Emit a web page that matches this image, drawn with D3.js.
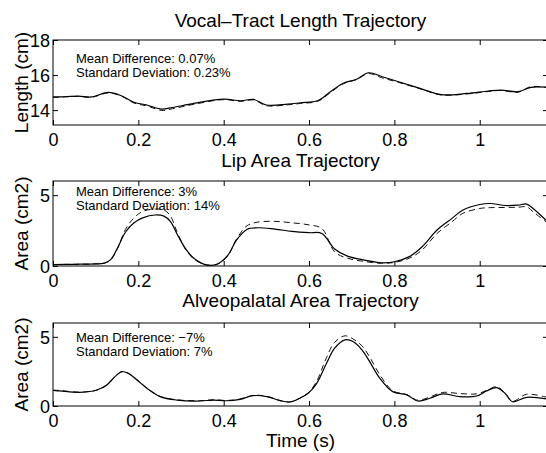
<!DOCTYPE html>
<html>
<head>
<meta charset="utf-8">
<script src="https://cdn.jsdelivr.net/npm/d3@7"></script>
<style>
  body { margin: 0; background: #fff; }
  svg { display: block; font-family: "Liberation Sans", Arial, Helvetica, sans-serif; }
  .tick line { stroke: #000; }
  .lbl { fill: #000; }
</style>
</head>
<body>
<div id="chart"></div>
<script>
'use strict';

// Vocal-tract length (cm): measured (solid) vs estimated (dashed)
var lenTime = [0, 0.02, 0.06, 0.09, 0.13, 0.16, 0.19, 0.22, 0.255, 0.28, 0.33, 0.40, 0.44, 0.47, 0.50, 0.55, 0.58, 0.62, 0.65, 0.68, 0.71, 0.74, 0.77, 0.81, 0.86, 0.91, 0.97, 1.02, 1.05, 1.09, 1.12, 1.16];
var lenSolid = [14.75, 14.76, 14.8, 14.75, 15.01, 14.82, 14.45, 14.29, 14.06, 14.15, 14.38, 14.63, 14.53, 14.61, 14.29, 14.34, 14.42, 14.53, 15.05, 15.53, 15.75, 16.13, 15.92, 15.62, 15.24, 14.88, 14.95, 15.09, 15.14, 15.05, 15.3, 15.3];
var lenDashed = [14.72, 14.74, 14.78, 14.73, 14.98, 14.8, 14.4, 14.24, 13.98, 14.08, 14.33, 14.6, 14.5, 14.58, 14.25, 14.3, 14.38, 14.5, 15.0, 15.5, 15.73, 16.08, 15.85, 15.58, 15.22, 14.86, 14.92, 15.06, 15.12, 15.02, 15.34, 15.28];

// Lip area (cm2)
var lipTime = [0, 0.05, 0.10, 0.12, 0.135, 0.15, 0.17, 0.19, 0.21, 0.24, 0.26, 0.275, 0.29, 0.31, 0.33, 0.36, 0.385, 0.41, 0.43, 0.455, 0.48, 0.52, 0.56, 0.60, 0.63, 0.66, 0.69, 0.73, 0.77, 0.80, 0.835, 0.865, 0.90, 0.935, 0.96, 1.0, 1.025, 1.06, 1.09, 1.11, 1.125, 1.16];
var lipSolid = [0.1, 0.12, 0.15, 0.2, 0.45, 1.2, 2.4, 3.05, 3.4, 3.6, 3.52, 3.15, 2.3, 1.25, 0.55, 0.08, 0.14, 0.77, 1.83, 2.6, 2.7, 2.6, 2.45, 2.35, 2.3, 1.2, 0.7, 0.42, 0.23, 0.3, 0.66, 1.36, 2.54, 3.36, 3.94, 4.34, 4.41, 4.27, 4.3, 4.37, 4.06, 3.1];
var lipDashed = [0.1, 0.12, 0.15, 0.2, 0.42, 1.15, 2.6, 3.4, 3.85, 4.02, 3.95, 3.55, 2.45, 1.2, 0.5, 0.06, 0.12, 0.72, 1.9, 2.85, 3.1, 3.15, 3.05, 2.9, 2.65, 1.0, 0.55, 0.32, 0.19, 0.25, 0.55, 1.13, 2.3, 3.12, 3.71, 4.06, 4.12, 4.13, 4.15, 4.18, 3.83, 3.0];

// Alveopalatal area (cm2)
var alvTime = [0, 0.016, 0.063, 0.103, 0.126, 0.145, 0.161, 0.176, 0.197, 0.22, 0.251, 0.29, 0.344, 0.375, 0.407, 0.438, 0.469, 0.501, 0.532, 0.555, 0.578, 0.598, 0.618, 0.641, 0.66, 0.684, 0.703, 0.724, 0.742, 0.766, 0.796, 0.829, 0.855, 0.883, 0.913, 0.953, 0.993, 1.016, 1.04, 1.059, 1.077, 1.11, 1.16];
var alvSolid = [1.12, 1.09, 0.99, 1.16, 1.52, 2.12, 2.49, 2.37, 1.88, 1.28, 0.68, 0.43, 0.36, 0.43, 0.38, 0.48, 0.75, 0.68, 0.39, 0.29, 0.56, 0.92, 1.64, 3.09, 4.18, 4.78, 4.66, 4.06, 3.21, 2.0, 1.04, 0.8, 0.36, 0.56, 0.87, 0.68, 0.72, 1.09, 1.33, 0.92, 0.31, 0.63, 0.49];
var alvDashed = [1.15, 1.12, 1.0, 1.15, 1.5, 2.1, 2.47, 2.38, 1.9, 1.3, 0.7, 0.45, 0.38, 0.45, 0.4, 0.5, 0.77, 0.7, 0.4, 0.3, 0.55, 0.95, 1.8, 3.5, 4.6, 5.07, 4.85, 4.35, 3.55, 2.25, 1.1, 0.82, 0.42, 0.65, 0.98, 0.9, 0.88, 1.12, 1.4, 0.95, 0.35, 0.85, 0.6];

var xTicks = [0, 0.2, 0.4, 0.6, 0.8, 1];

var panels = [
  { title: 'Vocal\u2013Tract Length Trajectory', ylabel: 'Length (cm)', time: lenTime, solid: lenSolid, dashed: lenDashed,
    ydomain: [13.15, 18], yticks: [14, 16, 18], top: 40, bottom: 125, titleY: 27,
    notes: ['Mean Difference: 0.07%', 'Standard Deviation: 0.23%'], noteY: 63 },
  { title: 'Lip Area Trajectory', ylabel: 'Area (cm2)', time: lipTime, solid: lipSolid, dashed: lipDashed,
    ydomain: [0, 6], yticks: [0, 5], top: 181, bottom: 266, titleY: 167,
    notes: ['Mean Difference: 3%', 'Standard Deviation: 14%'], noteY: 196 },
  { title: 'Alveopalatal Area Trajectory', ylabel: 'Area (cm2)', time: alvTime, solid: alvSolid, dashed: alvDashed,
    ydomain: [0, 6], yticks: [0, 5], top: 323, bottom: 406, titleY: 307,
    notes: ['Mean Difference: \u22127%', 'Standard Deviation: 7%'], noteY: 342 }
];

var width = 546, height = 453,
    left = 53, right = 548;

var svg = d3.select('#chart').append('svg')
  .attr('width', width)
  .attr('height', height);

var x = d3.scaleLinear().domain([0, 1.16]).range([left, right]);

panels.forEach(function (p, i) {
  var y = d3.scaleLinear().domain(p.ydomain).range([p.bottom, p.top]);
  var g = svg.append('g');

  var clipId = 'clip' + i;
  svg.append('clipPath').attr('id', clipId).append('rect')
    .attr('x', left).attr('y', p.top).attr('width', right - left).attr('height', p.bottom - p.top);

  // frame
  g.append('rect')
    .attr('x', left).attr('y', p.top)
    .attr('width', right - left).attr('height', p.bottom - p.top)
    .attr('fill', 'none').attr('stroke', '#000').attr('stroke-width', 1);

  // axes: inward ticks on all sides
  g.append('g').attr('transform', 'translate(0,' + p.bottom + ')')
    .call(d3.axisBottom(x).tickValues(xTicks).tickSize(-5).tickPadding(8)
      .tickFormat(function (d) { return String(d); }));
  var leftAxis = g.append('g').attr('transform', 'translate(' + left + ',0)')
    .call(d3.axisLeft(y).tickValues(p.yticks).tickSize(-5).tickPadding(3)
      .tickFormat(d3.format('d')));
  g.append('g').attr('transform', 'translate(0,' + p.top + ')')
    .call(d3.axisTop(x).tickValues(xTicks).tickSize(-5).tickFormat(''));
  g.append('g').attr('transform', 'translate(' + right + ',0)')
    .call(d3.axisRight(y).tickValues(p.yticks).tickSize(-5).tickFormat(''));

  g.selectAll('.domain').remove();
  g.selectAll('.tick text').attr('fill', '#000').style('font-size', '18px')
    .style('font-family', '"Liberation Sans", Arial, sans-serif');
  leftAxis.selectAll('.tick text').attr('dy', '0.36em');

  var line = d3.line()
    .x(function (d) { return x(d[0]); })
    .y(function (d) { return y(d[1]); })
    .curve(d3.curveCatmullRom.alpha(0.5));

  var solidPts = p.time.map(function (t, k) { return [t, p.solid[k]]; });
  var dashedPts = p.time.map(function (t, k) { return [t, p.dashed[k]]; });

  g.append('path').datum(dashedPts)
    .attr('clip-path', 'url(#' + clipId + ')')
    .attr('d', line).attr('fill', 'none')
    .attr('stroke', '#111').attr('stroke-width', 1)
    .attr('stroke-dasharray', '6,4');

  g.append('path').datum(solidPts)
    .attr('clip-path', 'url(#' + clipId + ')')
    .attr('d', line).attr('fill', 'none')
    .attr('stroke', '#000').attr('stroke-width', 1.2);

  // title
  g.append('text').attr('class', 'lbl')
    .attr('x', (left + right) / 2).attr('y', p.titleY)
    .attr('text-anchor', 'middle').style('font-size', '19px')
    .text(p.title);

  // y label
  g.append('text').attr('class', 'lbl')
    .attr('transform', 'translate(28,' + (p.top + p.bottom) / 2 + ') rotate(-90)')
    .attr('text-anchor', 'middle').style('font-size', '19px')
    .text(p.ylabel);

  // stats notes
  p.notes.forEach(function (n, k) {
    g.append('text').attr('class', 'lbl')
      .attr('x', 76).attr('y', p.noteY + k * 14)
      .style('font-size', '13px')
      .text(n);
  });
});

svg.append('text').attr('class', 'lbl')
  .attr('x', (left + right) / 2).attr('y', 447)
  .attr('text-anchor', 'middle').style('font-size', '19px')
  .text('Time (s)');
</script>
</body>
</html>
